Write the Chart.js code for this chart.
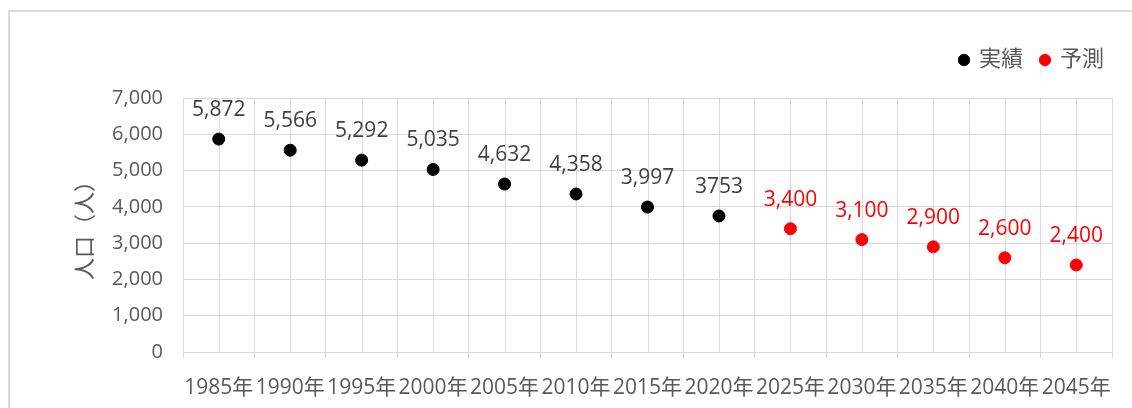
<!DOCTYPE html>
<html lang="ja">
<head>
<meta charset="utf-8">
<script src="https://cdn.jsdelivr.net/npm/chart.js@4/dist/chart.umd.min.js"></script>
<style>
  html, body { margin: 0; padding: 0; background: #fff; overflow: hidden; }
  #marco { position: absolute; left: 8px; top: 10px; width: 1300px; height: 600px; border: 2px solid #dcdcdc; }
  #wrap { position: absolute; left: 0; top: 0; width: 1132px; height: 408px; }
</style>
</head>
<body>
<div id="marco"></div>
<div id="wrap"><canvas id="grafico"></canvas></div>
<script>
// Datos
const anios = ['1985年', '1990年', '1995年', '2000年', '2005年', '2010年', '2015年',
  '2020年', '2025年', '2030年', '2035年', '2040年', '2045年'];
const jisseki = [5872, 5566, 5292, 5035, 4632, 4358, 3997, 3753, null, null, null, null, null];
const yosoku = [null, null, null, null, null, null, null, null, 3400, 3100, 2900, 2600, 2400];
const jissekiTexto = ['5,872', '5,566', '5,292', '5,035', '4,632', '4,358', '3,997', '3753', '', '', '', '', ''];
const yosokuTexto = ['', '', '', '', '', '', '', '', '3,400', '3,100', '2,900', '2,600', '2,400'];
const yTicks = [0, 1000, 2000, 3000, 4000, 5000, 6000, 7000];

const fuente = "'Open Sans', 'Noto Sans CJK JP', sans-serif";
const gris = '#595959';
const linea = '#d9d9d9';

// Lineas verticales en el centro de cada categoria
const lineasCentro = {
  id: 'lineasCentro',
  beforeDatasetsDraw(chart) {
    const { ctx, chartArea, scales } = chart;
    ctx.save();
    ctx.strokeStyle = linea;
    ctx.lineWidth = 1;
    anios.forEach((a, i) => {
      const x = Math.round(scales.x.getPixelForValue(i)) + 0.5;
      ctx.beginPath();
      ctx.moveTo(x, chartArea.top);
      ctx.lineTo(x, chartArea.bottom);
      ctx.stroke();
    });
    ctx.restore();
  }
};

// Etiquetas sobre cada punto
const etiquetas = {
  id: 'etiquetas',
  afterDatasetsDraw(chart) {
    const { ctx } = chart;
    const textos = [jissekiTexto, yosokuTexto];
    const colores = ['#404040', '#ff0000'];
    ctx.save();
    ctx.font = '21px ' + fuente;
    ctx.textAlign = 'center';
    ctx.textBaseline = 'middle';
    chart.data.datasets.forEach((ds, i) => {
      const meta = chart.getDatasetMeta(i);
      ctx.fillStyle = colores[i];
      meta.data.forEach((pt, j) => {
        if (ds.data[j] === null) return;
        ctx.fillText(textos[i][j], pt.x, pt.y - 29);
      });
    });
    ctx.restore();
  }
};

const ctx = document.getElementById('grafico').getContext('2d');
new Chart(ctx, {
  type: 'line',
  data: {
    labels: anios,
    datasets: [{
      label: '実績',
      data: jisseki,
      showLine: false,
      backgroundColor: '#000',
      borderColor: '#000',
      pointRadius: 6,
      pointHoverRadius: 6
    }, {
      label: '予測',
      data: yosoku,
      showLine: false,
      backgroundColor: '#ff0000',
      borderColor: '#ff0000',
      pointRadius: 6,
      pointHoverRadius: 6
    }]
  },
  options: {
    responsive: true,
    maintainAspectRatio: false,
    animation: false,
    layout: { padding: { left: 60, right: 10, top: 31, bottom: 0 } },
    plugins: {
      tooltip: { enabled: false },
      legend: {
        position: 'top',
        align: 'end',
        weight: 1000,
        labels: {
          usePointStyle: true,
          pointStyle: 'circle',
          boxWidth: 8,
          boxHeight: 8,
          padding: 18,
          color: gris,
          font: { family: fuente, size: 22 }
        }
      },
      // espacio vacio entre la leyenda y el grafico
      title: {
        display: true,
        text: '',
        weight: 100,
        padding: { top: 0, bottom: 16 },
        font: { size: 1 }
      }
    },
    scales: {
      x: {
        offset: true,
        grid: { offset: true, color: linea, drawTicks: true, tickLength: 6, tickColor: linea },
        border: { color: linea },
        ticks: {
          color: gris,
          font: { family: fuente, size: 21 },
          maxRotation: 0,
          autoSkip: false,
          padding: 17
        },
        afterFit: (s) => { s.height = 56; }
      },
      y: {
        min: 0,
        max: 7000,
        afterBuildTicks: (s) => { s.ticks = yTicks.map(v => ({ value: v })); },
        grid: { color: linea, drawTicks: false },
        border: { display: false },
        ticks: {
          color: gris,
          padding: 20,
          font: { family: fuente, size: 20 },
          callback: (v) => v.toLocaleString('en-US')
        },
        title: {
          display: true,
          text: '人口（人）',
          color: gris,
          padding: { top: 10, bottom: 0 },
          font: { family: "'Noto Sans CJK JP', sans-serif", size: 22 }
        },
        afterFit: (s) => { s.width = 123; }
      },
      // margen derecho del area de datos
      y2: {
        position: 'right',
        display: true,
        grid: { display: false },
        border: { display: false },
        ticks: { display: false },
        afterFit: (s) => { s.width = 10; }
      }
    }
  },
  plugins: [lineasCentro, etiquetas]
});
</script>
</body>
</html>
